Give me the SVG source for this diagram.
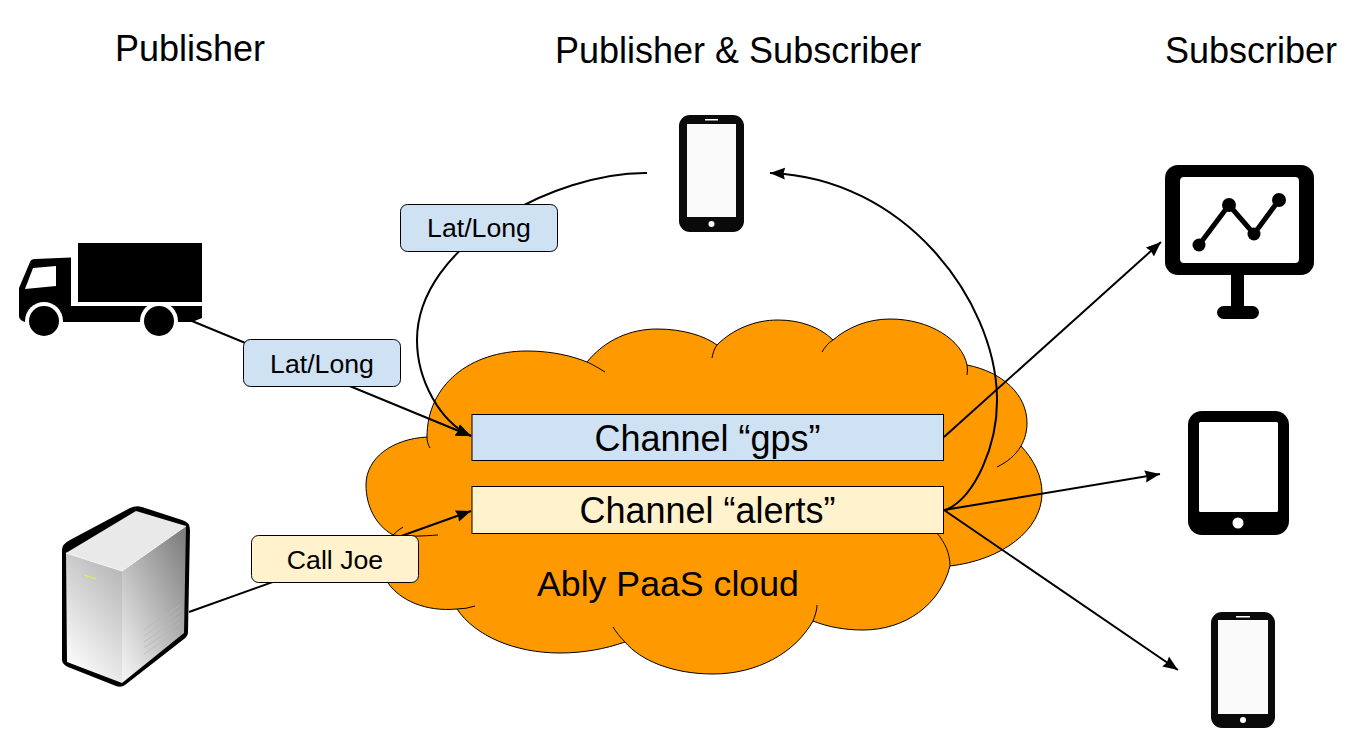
<svg xmlns="http://www.w3.org/2000/svg" width="1359" height="755" viewBox="0 0 1359 755">
<style>
text{font-family:"Liberation Sans",Arial,sans-serif;fill:#000}
.h{font-size:36px}
.c{font-size:36px;text-anchor:middle}
.l{font-size:26.670px;text-anchor:middle}
.conn{fill:none;stroke:#000;stroke-width:2}
.stub{fill:none;stroke:#000;stroke-width:1}
.blue{fill:#cfe2f3;stroke:#000;stroke-width:1}
.yellow{fill:#fff2cc;stroke:#000;stroke-width:1}
.dev{fill:#0a0a0a}
.scr{fill:#fafafa}
</style>
<defs>
<marker id="arrow" markerUnits="userSpaceOnUse" markerWidth="16" markerHeight="14" refX="15" refY="7" orient="auto"><path d="M0,1 L15,7 L0,13 L1.500,7 Z" fill="#000"/></marker>
<linearGradient id="gl" x1="0.7" y1="0" x2="0.2" y2="1"><stop offset="0" stop-color="#b8b8b8"/><stop offset="1" stop-color="#fff"/></linearGradient>
<linearGradient id="gr" x1="0.9" y1="0" x2="0.1" y2="1"><stop offset="0" stop-color="#7e7e7e"/><stop offset="1" stop-color="#f2f2f2"/></linearGradient>
</defs>
<rect width="1359" height="755" fill="#fff"/>
<g id="cloud">
<path fill="#ff9900" stroke="#000" stroke-width="1" d="M427,437 C427,385 470,351 527,351 C552,351 572,356 587,362 C605,340 630,329 657,329 C683,329 705,336 717,345 C733,329 755,320 778,320 C800,320 820,327 833,340 C848,327 868,319 890,319 C930,319 962,340 967,365 C1003,372 1027,395 1027,423 C1027,431 1025,439 1021,446 C1034,460 1042,476 1042,493 C1042,530 1002,560 950,566 C940,605 905,630 863,630 C845,630 828,627 813,621 C795,653 757,674 713,674 C672,674 640,660 625,642 C605,649 583,653 560,653 C515,653 475,636 457,609 C425,612 400,600 388,583 C375,565 380,548 393,535 C375,525 366,505 366,485 C366,458 392,439 427,437 Z"/>
<path class="stub" d="M587,362 C594,365 600,369 605,372 M717,345 C714,349 713,353 712,358 M833,340 C828,343 825,347 822,352 M967,365 Q968,370 967,375 M1021,446 C1015,456 1007,462 997,467 M950,566 C950,553 945,543 937,533 M813,621 C815,616 817,610 817,605 M625,642 C620,637 616,632 613,627 M457,609 Q466,609 475,606 M393,535 C408,537 423,536 438,535 M393,535 Q398,530 403,527 M427,437 C427,441 428,445 430,448"/>
<text x="537" y="596" style="font-size:35.700px">Ably PaaS cloud</text>
</g>
<g id="connectors">
<path class="conn" marker-end="url(#arrow)" d="M192,321 L471,436"/>
<path class="conn" marker-end="url(#arrow)" d="M189,612 L471,511"/>
<path class="conn" marker-end="url(#arrow)" d="M647,173 C555,172 417,245 417,340 C417,380 440,422 471,436"/>
<path class="conn" marker-end="url(#arrow)" d="M946,510 C975,497 998,445 997,397 C995,300 905,178 770,173"/>
<path class="conn" marker-end="url(#arrow)" d="M944,437 L1161,242"/>
<path class="conn" marker-end="url(#arrow)" d="M944,510 L1160,474"/>
<path class="conn" marker-end="url(#arrow)" d="M944,510 L1178,670"/>
</g>
<g id="channel-gps"><rect class="blue" x="472" y="414.500" width="471.500" height="46"/><text class="c" x="707.500" y="451">Channel “gps”</text></g>
<g id="channel-alerts"><rect class="yellow" x="472" y="486.500" width="471.500" height="47"/><text class="c" x="707.500" y="523">Channel “alerts”</text></g>
<g id="label-latlong-truck"><rect class="blue" x="243.500" y="339.500" width="157" height="47" rx="7"/><text class="l" x="322" y="373">Lat/Long</text></g>
<g id="label-latlong-phone"><rect class="blue" x="400.500" y="204.500" width="157" height="47" rx="7"/><text class="l" x="479" y="237">Lat/Long</text></g>
<g id="label-call-joe"><rect class="yellow" x="251.500" y="535.500" width="167" height="47" rx="7"/><text class="l" x="335" y="569">Call Joe</text></g>
<g id="heading-publisher"><text class="h" x="115" y="61">Publisher</text></g>
<g id="heading-both"><text class="h" x="555" y="63">Publisher &amp; Subscriber</text></g>
<g id="heading-subscriber"><text class="h" x="1165" y="63">Subscriber</text></g>
<g id="truck">
<rect x="78" y="243" width="124" height="59"/>
<path d="M19,288 L30,262 Q31,259 35,259 L71,257.500 L71,306 L202,306 L202,318 L192,322 L25,322 Q19,320 19,316 Z"/>
<path d="M33,268 L56,266 L56,286 L25,289 Z" fill="#fff"/>
<circle cx="44" cy="321" r="19" fill="#fff"/><circle cx="44" cy="321" r="15"/>
<circle cx="159" cy="321" r="19" fill="#fff"/><circle cx="159" cy="321" r="15"/>
</g>
<g id="server">
<path d="M62,550 Q62,544 70,540 L130,508 Q136,505 142,507 L182,520 Q190,522 190,530 L188,632 Q188,636 184,639 L125,685 Q121,688 116,686 L68,667 Q62,664 62,660 Z"/>
<path d="M66,553 L136,511 L186,526 L122,571 Z" fill="#e9e9e9"/>
<path d="M66,553 L122,571 L122,683 L67,662 Z" fill="url(#gl)"/>
<path d="M122,571 L186,526 L184,633 L122,683 Z" fill="url(#gr)"/>
<path d="M66,553 L122,571 L186,526" fill="none" stroke="#fff" stroke-width="1"/>
<path d="M83,574 L97,580" stroke="#c8c8c8" stroke-width="4"/><path d="M84,575 L96,579" stroke="#dfe27a" stroke-width="1.500"/>
<path d="M144,630 L180,605 M144,636 L180,611 M144,642 L180,617 M144,648 L180,623 M144,654 L180,629" stroke="#b8b8b8" stroke-width="0.800"/>
</g>
<g id="phone-top">
<rect class="dev" x="679" y="115" width="65" height="117" rx="11"/>
<rect class="scr" x="687" y="124" width="49" height="93"/>
<rect x="705" y="119" width="13" height="1.500" fill="#fff"/><circle cx="711.500" cy="224" r="3" fill="#fff"/>
</g>
<g id="monitor">
<rect x="1165" y="165" width="149" height="110" rx="13"/>
<rect x="1180" y="177" width="119" height="86" rx="4" fill="#fff"/>
<rect x="1231" y="275" width="13" height="35"/>
<rect x="1217" y="306" width="42" height="13" rx="6.500"/>
<path d="M1199,245 L1229,205 L1254,234 L1279,200" fill="none" stroke="#000" stroke-width="5"/>
<circle cx="1199" cy="245" r="6.500"/><circle cx="1229" cy="205" r="7"/><circle cx="1254" cy="234" r="6.500"/><circle cx="1279" cy="200" r="7"/>
</g>
<g id="tablet">
<rect x="1188" y="411" width="101" height="124" rx="14"/>
<rect x="1199" y="422" width="79" height="90" rx="1.500" fill="#fff"/>
<circle cx="1238" cy="523" r="5.500" fill="#fff"/>
</g>
<g id="phone-bottom">
<rect class="dev" x="1211" y="612" width="64" height="116" rx="11"/>
<rect class="scr" x="1218" y="620" width="50" height="94"/>
<rect x="1236" y="616" width="14" height="1.500" fill="#fff"/><circle cx="1243" cy="720" r="3" fill="#fff"/>
</g>
</svg>
